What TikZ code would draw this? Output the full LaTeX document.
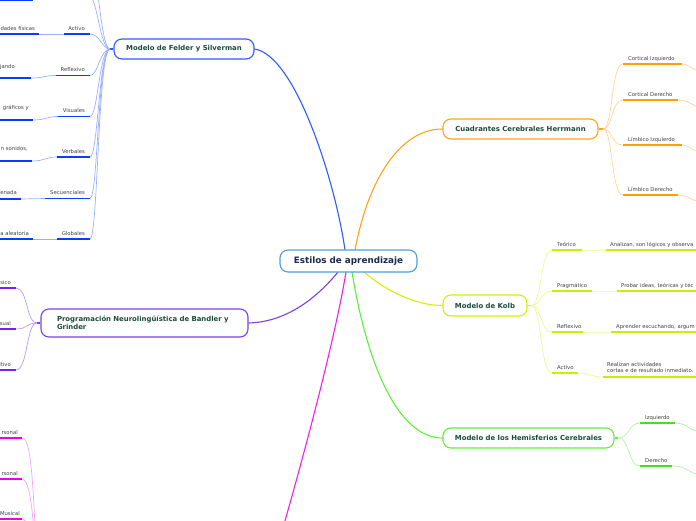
\documentclass[tikz,border=0pt]{standalone}
\usepackage{fontspec}
\setmainfont{DejaVu Sans}
\definecolor{blueM}{HTML}{2F5BFF}\definecolor{blueL}{HTML}{9AB0FF}\definecolor{blueU}{HTML}{0A3CFF}
\definecolor{purM}{HTML}{7B3FF2}\definecolor{purL}{HTML}{B89AF8}\definecolor{purU}{HTML}{7A1FF0}
\definecolor{magM}{HTML}{F020F0}\definecolor{magL}{HTML}{F7A6F7}\definecolor{magU}{HTML}{E800E8}
\definecolor{orM}{HTML}{FFA31A}\definecolor{orL}{HTML}{FFD59A}\definecolor{orU}{HTML}{FF9F00}
\definecolor{ygM}{HTML}{D4F000}\definecolor{ygL}{HTML}{ECF99A}\definecolor{ygU}{HTML}{CCEE00}
\definecolor{grM}{HTML}{5EF03A}\definecolor{grL}{HTML}{B0F5A0}\definecolor{grU}{HTML}{44E020}
\definecolor{cenB}{HTML}{4D9FE0}\definecolor{cenT}{HTML}{1A2A50}
\definecolor{titT}{HTML}{1A4D3A}\definecolor{lblT}{HTML}{404040}
\begin{document}
\begin{tikzpicture}[x=1pt,y=-1pt,
  l1/.style={draw=#1, line width=1.1pt, rounded corners=8pt, fill=white, text=titT,
    font=\bfseries\fontsize{6.9}{8.4}\selectfont, inner sep=0pt},
  lbl/.style={inner sep=0pt, text=lblT, font=\fontsize{5.3}{6.5}\selectfont},
  uline/.style={draw=#1, line width=1.6pt},
  twig/.style={draw=#1, line width=0.7pt},
  trunk/.style={draw=#1, line width=1.1pt}]
\useasboundingbox (0,0) rectangle (696,520);
\clip (0,0) rectangle (696,520);
\fill[white] (0,0) rectangle (696,520);

% anchor points on the central node
\coordinate (cBlue) at (345,250);
\coordinate (cOr) at (355,250);
\coordinate (cPur) at (338,272);
\coordinate (cMag) at (346,272);
\coordinate (cGr) at (352,272);
\coordinate (cYg) at (364,272);

% ---------- Felder y Silverman ----------
\node[l1=blueM, minimum width=140pt, minimum height=20pt] (felder) at (184,49) {Modelo de Felder y Silverman};
\coordinate (fhub) at (110,49);
\draw[trunk=blueM] (fhub) -- (felder.west);
\draw[trunk=blueM] (felder.east) .. controls (295,55) and (335,180) .. (cBlue);

% children above the picture
\coordinate (fo1) at (90,-3);
\coordinate (fo2) at (90,-45);
\coordinate (fog) at (33,0.5);
\draw[twig=blueL] (fo1) .. controls (97,-3) and (100,49) .. (fhub);
\draw[twig=blueL] (fo2) .. controls (97,-45) and (100,49) .. (fhub);
\draw[uline=blueU] (0,0.5) -- (fog);

% Activo
\coordinate (fa1) at (64,34); \coordinate (fa2) at (90,34);
\coordinate (fag1) at (0,34); \coordinate (fag2) at (39,34);
\draw[twig=blueL] (fa2) .. controls (100,34) and (102,49) .. (fhub);
\draw[twig=blueL] (fag2) -- (fa1);
\draw[uline=blueU] (fa1) -- (fa2);
\draw[uline=blueU] (fag1) -- (fag2);
\node[lbl, anchor=base east] (faT) at (85,30) {Activo};
\node[lbl, anchor=base east] (fagT) at (35,30) {dades físicas};

% Reflexivo
\coordinate (fr1) at (56,75.5); \coordinate (fr2) at (90,75.5);
\coordinate (frg1) at (0,78); \coordinate (frg2) at (31,78);
\draw[twig=blueL] (fr2) .. controls (98,75.5) and (100,49) .. (fhub);
\draw[twig=blueL] (frg2) .. controls (44,78) and (44,75.5) .. (fr1);
\draw[uline=blueU] (fr1) -- (fr2);
\draw[uline=blueU] (frg1) -- (frg2);
\node[lbl, anchor=base east] (frT) at (85,71) {Reflexivo};
\node[lbl, anchor=base east] (frgT) at (15,68) {jando};

% Visuales
\coordinate (fv1) at (58,116.5); \coordinate (fv2) at (90,116.5);
\coordinate (fvg1) at (0,120); \coordinate (fvg2) at (33,120);
\draw[twig=blueL] (fv2) .. controls (98,116.5) and (99,49) .. (fhub);
\draw[twig=blueL] (fvg2) .. controls (46,120) and (46,116.5) .. (fv1);
\draw[uline=blueU] (fv1) -- (fv2);
\draw[uline=blueU] (fvg1) -- (fvg2);
\node[lbl, anchor=base east] (fvT) at (85,112) {Visuales};
\node[lbl, anchor=base east] (fvgT) at (29,109) {gráficos y};

% Verbales
\coordinate (fb1) at (57,157); \coordinate (fb2) at (90,157);
\coordinate (fbg1) at (0,161); \coordinate (fbg2) at (32,161);
\draw[twig=blueL] (fb2) .. controls (98,157) and (99,49) .. (fhub);
\draw[twig=blueL] (fbg2) .. controls (45,161) and (45,157) .. (fb1);
\draw[uline=blueU] (fb1) -- (fb2);
\draw[uline=blueU] (fbg1) -- (fbg2);
\node[lbl, anchor=base east] (fbT) at (85,153) {Verbales};
\node[lbl, anchor=base east] (fbgT) at (28,150) {n sonidos,};

% Secuenciales
\coordinate (fs1) at (45,198.5); \coordinate (fs2) at (90,198.5);
\coordinate (fsg1) at (0,199); \coordinate (fsg2) at (21,199);
\draw[twig=blueL] (fs2) .. controls (98,198.5) and (98,49) .. (fhub);
\draw[twig=blueL] (fsg2) -- (fs1);
\draw[uline=blueU] (fs1) -- (fs2);
\draw[uline=blueU] (fsg1) -- (fsg2);
\node[lbl, anchor=base east] (fsT) at (85,194) {Secuenciales};
\node[lbl, anchor=base east] (fsgT) at (17,194) {enada};

% Globales
\coordinate (fg1) at (57,239); \coordinate (fg2) at (90,239);
\coordinate (fgg1) at (0,239); \coordinate (fgg2) at (33,239);
\draw[twig=blueL] (fg2) .. controls (98,239) and (98,49) .. (fhub);
\draw[twig=blueL] (fgg2) -- (fg1);
\draw[uline=blueU] (fg1) -- (fg2);
\draw[uline=blueU] (fgg1) -- (fgg2);
\node[lbl, anchor=base east] (fgT) at (85,235) {Globales};
\node[lbl, anchor=base east] (fggT) at (29,235) {a aleatoria};

% ---------- PNL ----------
\node[l1=purM, minimum width=207pt, minimum height=28pt, text width=175pt, align=left] (pnl) at (144.5,323)
  {Programación Neurolingüística de Bandler y\\Grinder};
\coordinate (phub) at (37,323);
\draw[trunk=purM] (phub) -- (pnl.west);
\draw[trunk=purM] (pnl.east) .. controls (285,322) and (315,300) .. (cPur);
\foreach \y/\t [count=\i] in {288/sico, 329/sual, 370/itivo}{
  \coordinate (pu\i) at (16,\y);
  \draw[twig=purL] (pu\i) .. controls (28,\y) and (26,323) .. (phub);
  \draw[uline=purU] (0,\y) -- (pu\i);
  \node[lbl, anchor=base east] (pT\i) at (11,\y-4) {\t};
}

% ---------- Inteligencias (magenta, below) ----------
\coordinate (mnode) at (278,545);
\draw[trunk=magM] (cMag) .. controls (335,340) and (300,470) .. (mnode);
\coordinate (mhub) at (37,570);
\foreach \y/\xr/\t [count=\i] in {438/18/rsonal, 479/18/rsonal, 519/20/Musical}{
  \coordinate (mu\i) at (22,\y);
  \draw[twig=magL] (mu\i) .. controls (31,\y) and (33,\y+40) .. (mhub);
  \draw[uline=magU] (0,\y) -- (mu\i);
  \node[lbl, anchor=base east] (mT\i) at (\xr,\y-4) {\t};
}

% ---------- Herrmann ----------
\node[l1=orM, minimum width=155pt, minimum height=20pt] (herr) at (520.5,129) {Cuadrantes Cerebrales Herrmann};
\coordinate (hhub) at (603,129);
\draw[trunk=orM] (herr.east) -- (hhub);
\draw[trunk=orM] (cOr) .. controls (368,180) and (400,129) .. (herr.west);
\foreach \y/\xe/\t [count=\i] in {64/682/Cortical Izquierdo, 100/678/Cortical Derecho, 145/682/Límbico Izquierdo, 195/678/Límbico Derecho}{
  \coordinate (hu\i) at (623,\y);
  \coordinate (hv\i) at (\xe,\y);
  \coordinate (hx\i) at (702,\y+7);
  \draw[twig=orL] (hhub) .. controls (613,129) and (611,\y) .. (hu\i);
  \draw[twig=orL] (hv\i) .. controls (690,\y) and (690,\y+6) .. (hx\i);
  \draw[uline=orU] (hu\i) -- (hv\i);
  \node[lbl, anchor=base west] (hT\i) at (628,\y-4) {\t};
}

% ---------- Kolb ----------
\node[l1=ygM, minimum width=84pt, minimum height=21pt] (kolb) at (485,305.5) {Modelo de Kolb};
\coordinate (khub) at (531,305.5);
\draw[trunk=ygM] (kolb.east) -- (khub);
\draw[trunk=ygM] (cYg) .. controls (385,290) and (415,305.5) .. (kolb.west);
\foreach \y/\xe/\gx/\gy/\t [count=\i] in {250/582/606/250/Teórico, 291/592/617/291/Pragmático, 332/583/611/332/Reflexivo, 373/578/603/377/Activo}{
  \coordinate (ku\i) at (552,\y);
  \coordinate (kv\i) at (\xe,\y);
  \coordinate (kg\i) at (\gx,\gy);
  \draw[twig=ygL] (khub) .. controls (542,305.5) and (540,\y) .. (ku\i);
  \draw[twig=ygL] (kv\i) .. controls (\xe+10,\y) and (\gx-10,\gy) .. (kg\i);
  \draw[uline=ygU] (ku\i) -- (kv\i);
  \draw[uline=ygU] (kg\i) -- (700,\gy);
  \node[lbl, anchor=base west] (kT\i) at (557,\y-4) {\t};
}
\node[lbl, anchor=base west] (kgT1) at (610,246) {Analizan, son lógicos y observa};
\node[lbl, anchor=base west] (kgT2) at (621,287) {Probar ideas, teóricas y téc};
\node[lbl, anchor=base west] (kgT3) at (616,328) {Aprender escuchando, argum};
\node[lbl, anchor=base west] (kgT4a) at (607,366) {Realizan actividades};
\node[lbl, anchor=base west] (kgT4b) at (607,372.5) {cortas e de resultado inmediato.};

% ---------- Hemisferios ----------
\node[l1=grM, minimum width=171pt, minimum height=20pt] (hemi) at (528.5,438) {Modelo de los Hemisferios Cerebrales};
\coordinate (ehub) at (618,438);
\draw[trunk=grM] (hemi.east) -- (ehub);
\draw[trunk=grM] (cGr) .. controls (368,370) and (400,438) .. (hemi.west);
\foreach \y/\xe/\t [count=\i] in {423/675/Izquierdo, 466/672/Derecho}{
  \coordinate (eu\i) at (640,\y);
  \coordinate (ev\i) at (\xe,\y);
  \coordinate (ex\i) at (702,\y+9);
  \draw[twig=grL] (ehub) .. controls (630,438) and (628,\y) .. (eu\i);
  \draw[twig=grL] (ev\i) .. controls (688,\y) and (688,\y+8) .. (ex\i);
  \draw[uline=grU] (eu\i) -- (ev\i);
  \node[lbl, anchor=base west] (eT\i) at (645,\y-4) {\t};
}

% ---------- Central ----------
\node[draw=cenB, line width=1.1pt, rounded corners=8pt, fill=white, text=cenT, inner sep=0pt,
  font=\bfseries\fontsize{8.8}{10}\selectfont, minimum width=137pt, minimum height=22pt] (cen) at (348.5,261) {Estilos de aprendizaje};
\end{tikzpicture}
\end{document}
